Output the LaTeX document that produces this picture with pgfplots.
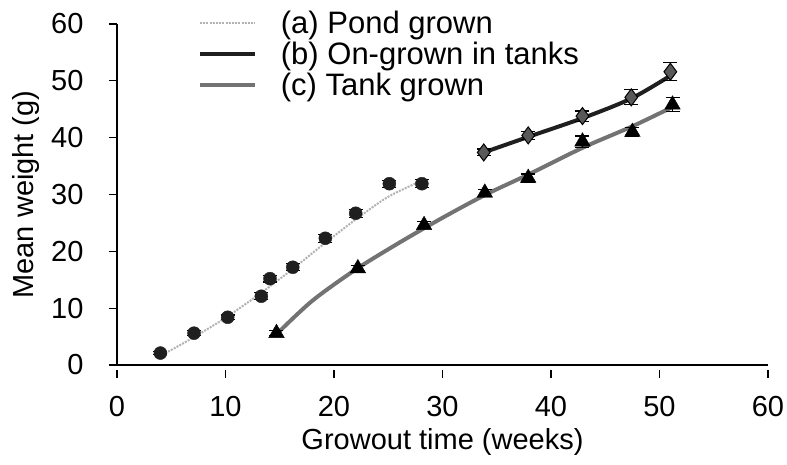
\documentclass[border=0pt]{standalone}
\usepackage{fontspec}
\setmainfont{Liberation Sans}
\usepackage{pgfplots}
\usepackage{pgfplotstable}
\pgfplotsset{compat=1.18}

% measured means (with standard errors) for each growout group
\pgfplotstableread{
x     y     e
4.0   2.1   0.3
7.1   5.6   0.4
10.2  8.4   0.4
13.3  12.1  0.6
14.1  15.2  0.6
16.2  17.2  0.6
19.2  22.3  0.7
22.0  26.7  0.7
25.1  31.9  0.6
28.1  31.9  0.7
}\pond
\pgfplotstableread{
x     y     e
33.8  37.4  0.6
37.9  40.4  0.7
42.9  43.8  0.9
47.4  47.1  1.3
51.0  51.6  1.6
}\ongrown
\pgfplotstableread{
x     y     e
14.7  5.6   0.4
22.2  17.0  0.5
28.3  24.6  0.6
33.9  30.3  0.6
37.9  32.9  0.7
42.9  39.3  1.0
47.5  41.0  0.8
51.2  45.8  1.2
}\tank

\begin{document}
\begin{tikzpicture}
\path[use as bounding box] (-117pt,-99pt) rectangle (670pt,365pt);
\begin{axis}[
  at={(0pt,0pt)}, anchor=south west,
  scale only axis, width=651pt, height=341pt,
  xmin=0, xmax=60, ymin=0, ymax=60,
  axis x line*=bottom, axis y line*=left,
  axis line style={line width=1.3pt, -},
  xtick={0,10,...,60}, ytick={0,10,...,60},
  tick align=outside, major tick length=8pt,
  tick style={line width=1.3pt, black},
  xtick style={yshift=-5pt},
  x tick label style={yshift=-20pt},
  y tick label style={xshift=-22pt},
  /pgf/number format/assume math mode=true,
  ticklabel style={font=\fontsize{29}{29}\selectfont},
  xlabel={Growout time (weeks)},
  ylabel={Mean weight (g)},
  x label style={yshift=-5pt},
  y label style={yshift=5pt},
  label style={font=\fontsize{29}{29}\selectfont},
  legend style={at={(rel axis cs:0.124,1.045)}, anchor=north west,
    draw=none, fill=none, inner sep=0pt,
    font=\fontsize{31}{31}\selectfont,
    nodes={inner sep=2pt}, row sep=3pt, legend cell align=left,
    /tikz/every odd column/.append style={column sep=22pt}},
  legend image code/.code={\draw[#1] (0pt,0pt) -- (55pt,0pt);},
  error bars/error bar style={line width=1.1pt, black},
  error bars/error mark options={rotate=90, mark size=7pt, line width=1.1pt, black},
]

% fitted growth curves
\addplot[black!30, line width=2pt, dash pattern=on 2pt off 1.2pt, smooth]
  coordinates {(4.2,1.8) (7,4.8) (10,8.3) (13,12.3) (16,16.6) (19,21.2)
               (22,25.6) (25,29.6) (28.3,32.6)};
\addlegendentry{(a) Pond grown}
\addplot[black!88, line width=4pt, smooth]
  coordinates {(33.8,37.4) (38,40.2) (43,43.5) (47.4,46.9) (51,50.9)};
\addlegendentry{(b) On-grown in tanks}
\addplot[black!55, line width=4pt, smooth]
  coordinates {(14.8,5.6) (18,11.3) (22,16.8) (26,21.5) (30,25.9) (34,30.0)
               (38,33.6) (43,38.3) (47.5,42.0) (51.2,45.4)};
\addlegendentry{(c) Tank grown}

% observed means
\addplot[only marks, mark=*, mark size=6.5pt, mark options={fill=black!88, draw=black!88},
  error bars/.cd, y dir=both, y explicit]
  table[x=x, y=y, y error=e] {\pond};
\addplot[only marks, mark=diamond*, mark size=8.5pt,
  mark options={fill=black!65, draw=black, line width=1pt},
  error bars/.cd, y dir=both, y explicit]
  table[x=x, y=y, y error=e] {\ongrown};
\addplot[only marks, mark=triangle*, mark size=9pt, mark options={fill=black, draw=black},
  error bars/.cd, y dir=both, y explicit]
  table[x=x, y=y, y error=e] {\tank};

\end{axis}
\end{tikzpicture}
\end{document}
